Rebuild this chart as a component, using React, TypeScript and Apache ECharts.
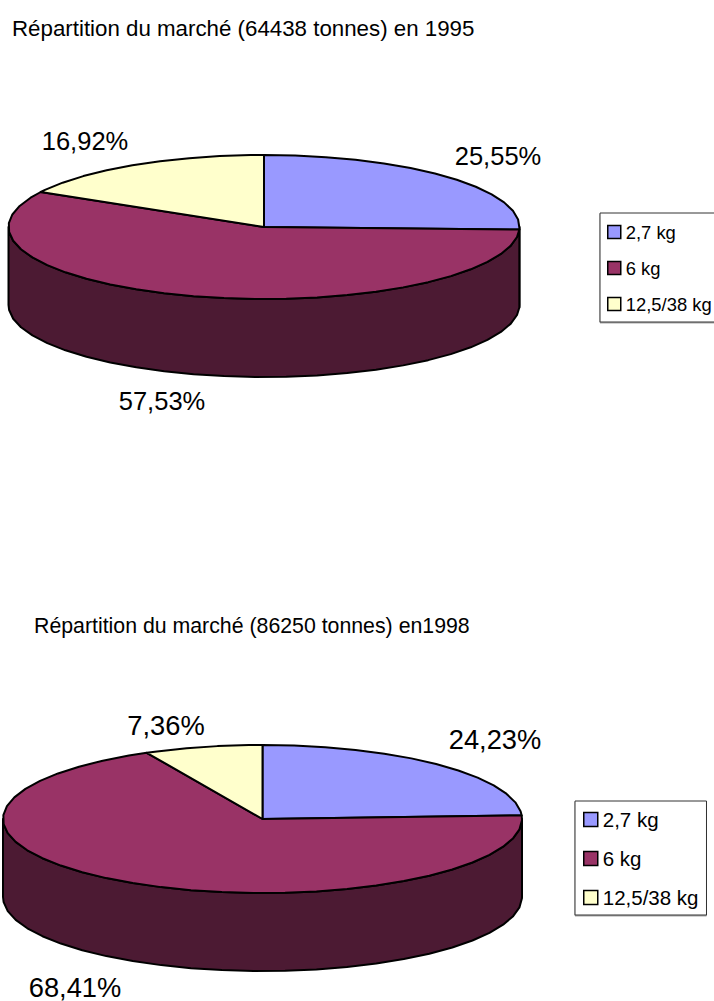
import React, { useEffect, useRef } from "react";
import * as echarts from "echarts";

// Market shares by pack size, in percent
const sizes = ["2,7 kg", "6 kg", "12,5/38 kg"];
const shares1995 = [25.55, 57.53, 16.92];
const shares1998 = [24.23, 68.41, 7.36];
const title1995 = "Répartition du marché (64438 tonnes) en 1995";
const title1998 = "Répartition du marché (86250 tonnes) en1998";

const faceColors = ["#9999FF", "#993366", "#FFFFCC"];
const wallColors = ["#4D4D80", "#4C1A33", "#808066"];

// Drawing geometry of the two tilted pies
const pies = [
  { cx: 264, cy: 227, rx: 255.5, ry: 72, depth: 78, font: 25.5, labels: [[498, 156], [162, 401], [85, 141]], shares: shares1995 },
  { cx: 262.5, cy: 819, rx: 259.5, ry: 74, depth: 78, font: 27.3, labels: [[495, 739], [75, 987], [166, 725]], shares: shares1998 },
];

const STEP = 7; // the rim is faceted: one chord every few degrees
const FONT = '"Liberation Sans", Arial, sans-serif';

function arc(p: any, from: number, to: number, dy: number) {
  const angles = [from];
  for (let a = Math.ceil(from / STEP + 1e-6) * STEP; a < to; a += STEP) angles.push(a);
  angles.push(to);
  return angles.map((a) => {
    const r = (a * Math.PI) / 180;
    return [p.cx + p.rx * Math.sin(r), p.cy - p.ry * Math.cos(r) + dy];
  });
}

function makeRenderItem(p: any, sliceIndex: number) {
  return (_params: any, api: any) => {
    const start = (api.value(0) / 100) * 360;
    const end = (api.value(1) / 100) * 360;
    const share = api.value(1) - api.value(0);
    const edge = { stroke: "#000", lineWidth: 2, lineJoin: "round" };
    const children: any[] = [];
    const wallFrom = Math.max(start, 90);
    const wallTo = Math.min(end, 270);
    if (wallTo > wallFrom) {
      const upper = arc(p, wallFrom, wallTo, 0);
      const lower = arc(p, wallFrom, wallTo, p.depth).reverse();
      children.push({
        type: "polygon",
        shape: { points: upper.concat(lower) },
        style: { fill: wallColors[sliceIndex], ...edge },
      });
    }
    children.push({
      type: "polygon",
      shape: { points: [[p.cx, p.cy], ...arc(p, start, end, 0)] },
      style: { fill: faceColors[sliceIndex], ...edge },
    });
    const [lx, ly] = p.labels[sliceIndex];
    children.push({
      type: "text",
      x: lx,
      y: ly,
      style: {
        text: share.toFixed(2).replace(".", ",") + "%",
        font: `${p.font}px ${FONT}`,
        fill: "#000",
        align: "center",
        verticalAlign: "middle",
      },
    });
    return { type: "group", children };
  };
}

function makeSeries() {
  const out: any[] = [];
  pies.forEach((p) => {
    let running = 0;
    p.shares.forEach((value, i) => {
      out.push({
        type: "custom",
        name: sizes[i],
        coordinateSystem: "none",
        silent: true,
        itemStyle: { color: faceColors[i] },
        data: [[running, running + value]],
        renderItem: makeRenderItem(p, i),
      });
      running += value;
    });
  });
  return out;
}

function makeLegend(left: number, top: number, fontSize: number, box: number, gap: number, padding: number[]) {
  return {
    orient: "vertical",
    left,
    top,
    data: sizes,
    selectedMode: false,
    icon: "rect",
    itemWidth: box,
    itemHeight: box,
    itemGap: gap,
    padding,
    borderColor: "#333",
    borderWidth: 1,
    backgroundColor: "#fff",
    shadowColor: "rgba(0,0,0,0.35)",
    shadowOffsetY: 1,
    shadowBlur: 1,
    itemStyle: { borderColor: "#000", borderWidth: 1.5 },
    textStyle: { fontFamily: FONT, fontSize, color: "#000" },
  };
}

export default function App() {
  const ref = useRef<HTMLDivElement>(null);
  useEffect(() => {
    const chart = echarts.init(ref.current!, null, { renderer: "svg" });
    chart.setOption({
      animation: false,
      backgroundColor: "#fff",
      title: [
        { text: title1995, left: 12, top: 17, padding: 0, textStyle: { fontFamily: FONT, fontSize: 22.3, fontWeight: "normal", color: "#000" } },
        { text: title1998, left: 34, top: 615, padding: 0, textStyle: { fontFamily: FONT, fontSize: 21.3, fontWeight: "normal", color: "#000" } },
      ],
      legend: [
        makeLegend(600, 213, 18.4, 13, 18, [10, 8, 9, 7]),
        makeLegend(575, 801, 20.5, 14, 18, [8, 8, 7, 8]),
      ],
      series: makeSeries(),
    });
    return () => chart.dispose();
  }, []);
  return <div ref={ref} style={{ position: "absolute", left: 0, top: 0, width: 714, height: 1001 }} />;
}
